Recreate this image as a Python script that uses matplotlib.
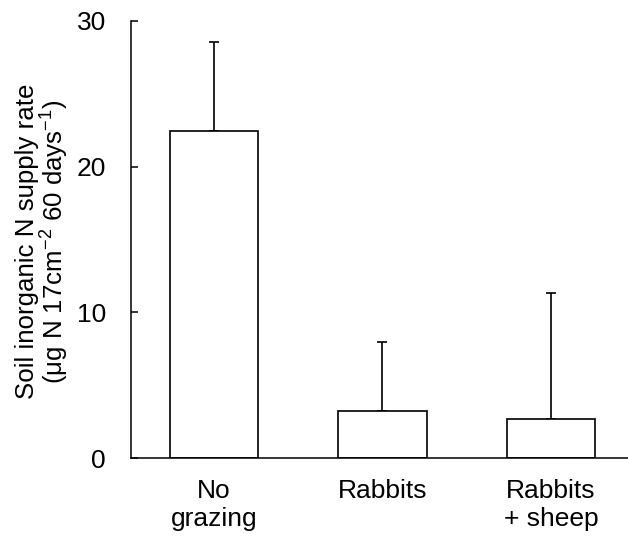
import matplotlib
matplotlib.use("Agg")
import matplotlib.pyplot as plt

plt.rcParams['font.family'] = ['Liberation Sans', 'DejaVu Sans']
plt.rcParams['mathtext.fontset'] = 'custom'
plt.rcParams['mathtext.rm'] = 'Liberation Sans'
plt.rcParams['mathtext.default'] = 'regular'

categories = ["No\ngrazing", "Rabbits", "Rabbits\n+ sheep"]
means = [22.45, 3.2, 2.7]
errors_upper = [6.1, 4.75, 8.65]
yticks = [0, 10, 20, 30]

fig = plt.figure(figsize=(6.28, 5.45), dpi=100)
ax = fig.add_axes([131/628, 1 - 458/545, 497/628, 437/545])

x = list(range(len(categories)))
ax.bar(x, means, width=0.525, color='white', edgecolor='black', linewidth=1.2, zorder=2)
ax.errorbar(x, means, yerr=[[0]*len(means), errors_upper], fmt='none', ecolor='black',
            elinewidth=1.2, capsize=3.8, capthick=1.2, zorder=1)

ax.set_xlim(-0.4926, 2.457)
ax.set_ylim(0, 30)
ax.set_yticks(yticks)
ax.set_yticklabels([str(t) for t in yticks], fontsize=19)
ax.set_xticks(x)
ax.set_xticklabels(categories, fontsize=19, linespacing=1.2)
ax.tick_params(axis='y', direction='in', length=5, width=1.1, pad=18)
ax.tick_params(axis='x', length=0, pad=15)
for s in ['top', 'right']:
    ax.spines[s].set_visible(False)
for s in ['left', 'bottom']:
    ax.spines[s].set_linewidth(1.1)

ax.set_ylabel("Soil inorganic N supply rate\n(μg N 17cm$^{-2}$ 60 days$^{-1}$)", fontsize=18.6,
              linespacing=1.0)
ax.yaxis.set_label_coords(-60/497, 0.495)

fig.savefig("out.png", dpi=100)
